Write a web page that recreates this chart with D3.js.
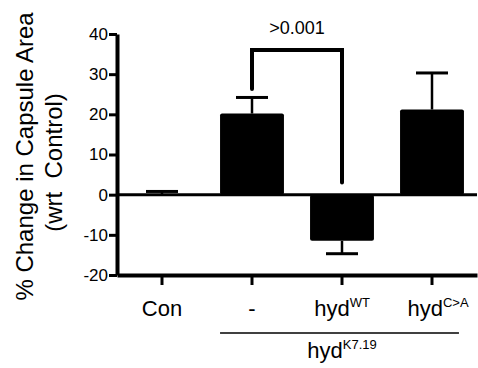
<!DOCTYPE html>
<html>
<head>
<meta charset="utf-8">
<script src="https://cdn.jsdelivr.net/npm/d3@7"></script>
<style>
  body { margin: 0; background: #fff; }
  svg text { font-family: "Liberation Sans", Arial, Helvetica, sans-serif; fill: #000; }
</style>
</head>
<body>
<div id="chart"></div>
<script>
// data
const categories = ['Con', '-', 'hydWT', 'hydC>A'];
const labelBase = ['Con', '-', 'hyd', 'hyd'];
const labelSup = ['', '', 'WT', 'C>A'];
const means = [0, 20.2, -11.5, 21.2];
const errors = [0.8, 4.0, 3.2, 9.1];
const yTicks = [-20, -10, 0, 10, 20, 30, 40];
const sigPair = ['-', 'hydWT'];
const sigEnds = [26.3, 3];
const sigTop = 36;
const sigLabel = '>0.001';
const groupLabel = { base: 'hyd', sup: 'K7.19', from: '-', to: 'hydC>A' };

const width = 478, height = 368;
let margin = { top: 34, right: 1, bottom: 93, left: 117 };

const svg = d3.select('#chart').append('svg')
  .attr('width', width)
  .attr('height', height);

const x = d3.scaleBand()
  .domain(categories)
  .range([margin.left, width - margin.right])
  .paddingInner(0.29)
  .paddingOuter(0.145);

const y = d3.scaleLinear()
  .domain([-20, 40])
  .range([height - margin.bottom, margin.top]);

const cx = d => x(d) + x.bandwidth() / 2;

// bars
svg.selectAll('rect.bar')
  .data(categories)
  .enter()
  .append('rect')
  .attr('class', 'bar')
  .attr('x', d => x(d))
  .attr('width', x.bandwidth())
  .attr('y', (d, i) => y(Math.max(0, means[i])))
  .attr('height', (d, i) => Math.abs(y(means[i]) - y(0)))
  .attr('rx', 2)
  .attr('fill', '#000');

// error bars (one-sided, away from zero)
const errEnd = i => means[i] + (means[i] < 0 ? -errors[i] : errors[i]);
svg.selectAll('line.stem')
  .data(categories)
  .enter()
  .append('line')
  .attr('x1', d => cx(d))
  .attr('x2', d => cx(d))
  .attr('y1', (d, i) => y(means[i]))
  .attr('y2', (d, i) => y(errEnd(i)))
  .attr('stroke', '#000')
  .attr('stroke-width', 2.5);
svg.selectAll('line.cap')
  .data(categories)
  .enter()
  .append('line')
  .attr('x1', d => cx(d) - 16)
  .attr('x2', d => cx(d) + 16)
  .attr('y1', (d, i) => y(errEnd(i)))
  .attr('y2', (d, i) => y(errEnd(i)))
  .attr('stroke', '#000')
  .attr('stroke-width', 3);

// zero line
svg.append('line')
  .attr('x1', margin.left)
  .attr('x2', width - margin.right)
  .attr('y1', y(0))
  .attr('y2', y(0))
  .attr('stroke', '#000')
  .attr('stroke-width', 3);

// y axis (plain hyphen for negatives, like the original)
const yAxis = svg.append('g')
  .attr('transform', 'translate(' + margin.left + ',0)')
  .call(d3.axisLeft(y).tickValues(yTicks).tickSize(8).tickSizeOuter(0).tickPadding(1)
    .tickFormat(d => String(d)));
yAxis.select('.domain').attr('stroke-width', 4);
yAxis.selectAll('.tick line').attr('stroke-width', 3);
yAxis.selectAll('.tick text')
  .attr('font-size', 17)
  .attr('font-family', '"Liberation Sans", Arial, sans-serif');

// x axis at the bottom
const xAxis = svg.append('g')
  .attr('transform', 'translate(0,' + y(-20) + ')')
  .call(d3.axisBottom(x).tickSize(10).tickSizeOuter(0).tickFormat(''));
xAxis.select('.domain').attr('stroke-width', 4);
xAxis.selectAll('.tick line').attr('stroke-width', 3);

// category labels with superscripts
const lab = svg.selectAll('text.cat')
  .data(categories)
  .enter()
  .append('text')
  .attr('class', 'cat')
  .attr('x', d => cx(d))
  .attr('dx', (d, i) => (i === 3 ? 6 : 0))
  .attr('y', 316)
  .attr('text-anchor', 'middle')
  .attr('font-size', 22);
lab.append('tspan').text((d, i) => labelBase[i]);
lab.append('tspan')
  .attr('font-size', 13)
  .attr('dy', -9)
  .text((d, i) => labelSup[i]);

// group underline + label
svg.append('line')
  .attr('x1', x(groupLabel.from))
  .attr('x2', x(groupLabel.to) + x.bandwidth() - 5)
  .attr('y1', 333)
  .attr('y2', 333)
  .attr('stroke', '#000')
  .attr('stroke-width', 1.5);
const g = svg.append('text')
  .attr('x', (x(groupLabel.from) + x(groupLabel.to) + x.bandwidth()) / 2)
  .attr('y', 358)
  .attr('text-anchor', 'middle')
  .attr('font-size', 22);
g.append('tspan').text(groupLabel.base);
g.append('tspan').attr('font-size', 13).attr('dy', -9).text(groupLabel.sup);

// significance bracket
const b0 = cx(sigPair[0]), b1 = cx(sigPair[1]);
svg.append('path')
  .attr('d', d3.line()([[b0, y(sigEnds[0])], [b0, y(sigTop)], [b1, y(sigTop)], [b1, y(sigEnds[1])]]))
  .attr('fill', 'none')
  .attr('stroke', '#000')
  .attr('stroke-width', 4)
  .attr('stroke-linecap', 'round');
svg.append('text')
  .attr('x', (b0 + b1) / 2)
  .attr('y', y(sigTop) - 16)
  .attr('text-anchor', 'middle')
  .attr('font-size', 18)
  .text(sigLabel);

// y title
const cy = (margin.top + y(-20)) / 2;
svg.append('text')
  .attr('transform', 'translate(33,' + (cy + 2) + ') rotate(-90)')
  .attr('text-anchor', 'middle')
  .attr('font-size', 24)
  .text('% Change in Capsule Area');
svg.append('text')
  .attr('transform', 'translate(62,' + (cy + 8) + ') rotate(-90)')
  .attr('text-anchor', 'middle')
  .attr('font-size', 24)
  .style('white-space', 'pre')
  .text('(wrt  Control)');
</script>
</body>
</html>
